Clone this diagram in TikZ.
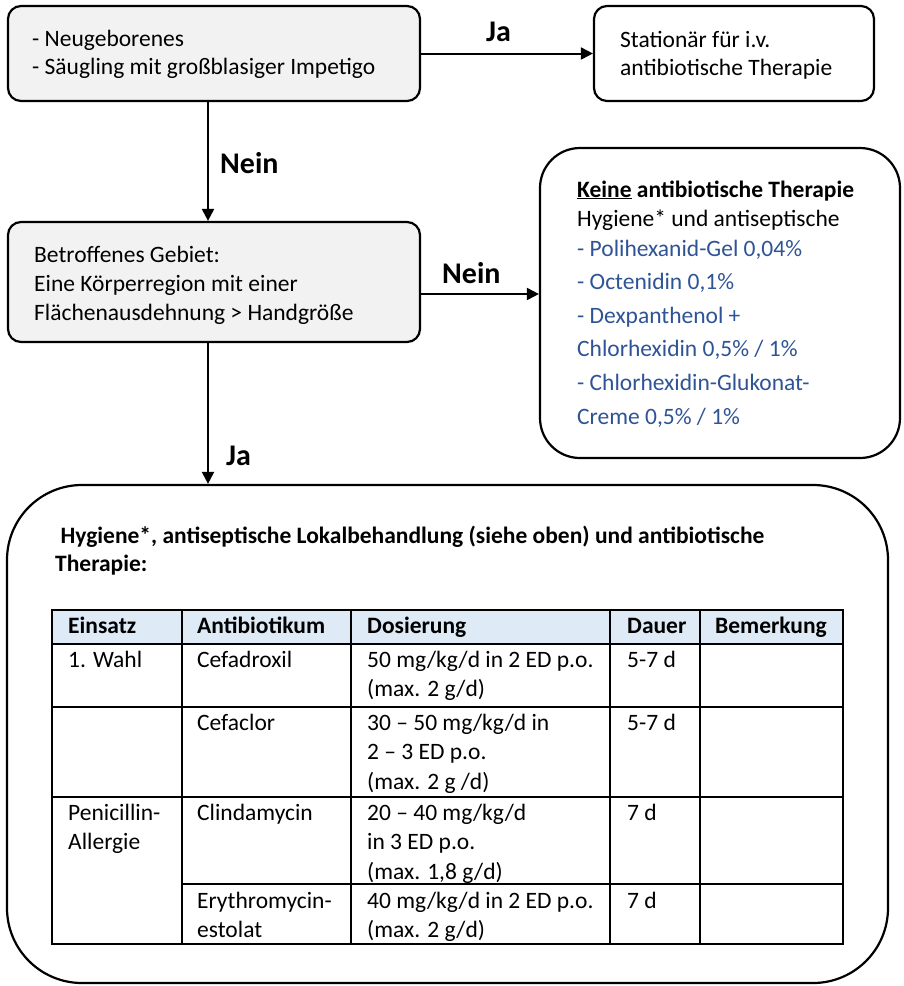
\documentclass[tikz,border=0pt]{standalone}
\usepackage{fontspec}
\setmainfont{Carlito}
\usetikzlibrary{arrows.meta,calc}
\definecolor{boxgray}{HTML}{F2F2F2}
\definecolor{hdrblue}{HTML}{DEEAF6}
\definecolor{txtblue}{HTML}{2F5496}

\begin{document}
\begin{tikzpicture}[x=1pt,y=-1pt,
  box/.style={draw, line width=2.2pt, rounded corners=13pt, inner sep=0pt},
  txt/.style={anchor=base west, inner sep=0pt, align=left, font=\fontsize{23.5}{27.5}\selectfont},
  lbl/.style={anchor=base west, inner sep=0pt, font=\fontsize{30}{34}\selectfont\bfseries},
  flow/.style={line width=2pt, -{Triangle[length=12pt,width=12pt]}},
  grid/.style={line width=2pt, line cap=rect},
  cell/.style={anchor=base west, inner sep=0pt, align=left, font=\fontsize{23.5}{29.5}\selectfont},
]
\useasboundingbox (0,0) rectangle (904,986);

% decision and result boxes
\node[box, fill=boxgray, minimum width=412pt, minimum height=95pt] (b1) at (214,53.5) {};
\node[box, fill=white, minimum width=280pt, minimum height=95pt] (b2) at (734,53.5) {};
\node[box, fill=boxgray, minimum width=412pt, minimum height=120pt] (b3) at (214,282) {};
\node[box, fill=white, rounded corners=40pt, minimum width=360pt, minimum height=310pt] (b4) at (720,303) {};
\node[box, fill=white, rounded corners=75pt, minimum width=881pt, minimum height=498pt] (b5) at (447.5,734) {};

% box texts (multi-line nodes sit on the baseline of their last line)
\node[txt] (t1) at (32,74) {- Neugeborenes\\- Säugling mit großblasiger Impetigo};
\node[txt] (t2) at (620,75) {Stationär für i.v.\\antibiotische Therapie};
\node[txt, font=\fontsize{23.5}{29}\selectfont] (t3) at (34,320) {Betroffenes Gebiet:\\Eine Körperregion mit einer\\Flächenausdehnung > Handgröße};
\node[txt, font=\fontsize{23.5}{29}\selectfont] (t4) at (577,226) {\textbf{\underline{Keine} antibiotische Therapie}\\Hygiene* und antiseptische};
\node[txt, text=txtblue, font=\fontsize{23.5}{33.6}\selectfont] (t5) at (577,424) {- Polihexanid-Gel 0,04\%\\- Octenidin 0,1\%\\- Dexpanthenol +\\Chlorhexidin 0,5\% / 1\%\\- Chlorhexidin-Glukonat-\\Creme 0,5\% / 1\%};
\node[txt, font=\fontsize{23.5}{28}\selectfont\bfseries] (t6) at (55,571) {\ Hygiene*, antiseptische Lokalbehandlung (siehe oben) und antibiotische\\Therapie:};

% connectors
\draw[flow] (b1.east) -- (b2.west);
\draw[flow] ([xshift=-6pt]b1.south) -- ([xshift=-6pt]b3.north);
\draw[flow] ([yshift=-12pt]b3.east) -- ([yshift=-12pt]b3.east -| b4.west);
\draw[flow] ([xshift=-6pt]b3.south) -- ([xshift=-6pt]b3.south |- b5.north);

% connector labels
\node[lbl] (ja1) at (486,41) {Ja};
\node[lbl] (nein1) at (220,173) {Nein};
\node[lbl] (nein2) at (442,283) {Nein};
\node[lbl] (ja2) at (226,465) {Ja};

% therapy table
\fill[hdrblue] (52,610) rectangle (843,644);
\draw[grid] (52,610) rectangle (843,944);
\foreach \yy in {644,707,797} \draw[grid] (52,\yy) -- (843,\yy);
\draw[grid] (182,884) -- (843,884);
\foreach \xx in {182,351,610,700} \draw[grid] (\xx,610) -- (\xx,944);

% header row
\node[cell, font=\fontsize{23.5}{29.5}\selectfont\bfseries] (h1) at (68,633) {Einsatz};
\node[cell, font=\fontsize{23.5}{29.5}\selectfont\bfseries] (h2) at (197,633) {Antibiotikum};
\node[cell, font=\fontsize{23.5}{29.5}\selectfont\bfseries] (h3) at (367,633) {Dosierung};
\node[cell, font=\fontsize{23.5}{29.5}\selectfont\bfseries] (h4) at (627,633) {Dauer};
\node[cell, font=\fontsize{23.5}{29.5}\selectfont\bfseries] (h5) at (715,633) {Bemerkung};

% body rows
\node[cell] (c11) at (68,667) {1. Wahl};
\node[cell] (c12) at (197,667) {Cefadroxil};
\node[cell] (c13) at (367,696.5) {50 mg/kg/d in 2 ED p.o.\\(max. 2 g/d)};
\node[cell] (c14) at (627,667) {5-7 d};

\node[cell] (c22) at (197,730) {Cefaclor};
\node[cell] (c23) at (367,789) {30 – 50 mg/kg/d in\\2 – 3 ED p.o.\\(max. 2 g /d)};
\node[cell] (c24) at (627,730) {5-7 d};

\node[cell] (c31) at (68,849.5) {Penicillin-\\Allergie};
\node[cell] (c32) at (197,820) {Clindamycin};
\node[cell] (c33) at (367,879) {20 – 40 mg/kg/d\\in 3 ED p.o.\\(max. 1,8 g/d)};
\node[cell] (c34) at (627,820) {7 d};

\node[cell] (c42) at (197,937.5) {Erythromycin-\\estolat};
\node[cell] (c43) at (367,937.5) {40 mg/kg/d in 2 ED p.o.\\(max. 2 g/d)};
\node[cell] (c44) at (627,908) {7 d};
\end{tikzpicture}
\end{document}
